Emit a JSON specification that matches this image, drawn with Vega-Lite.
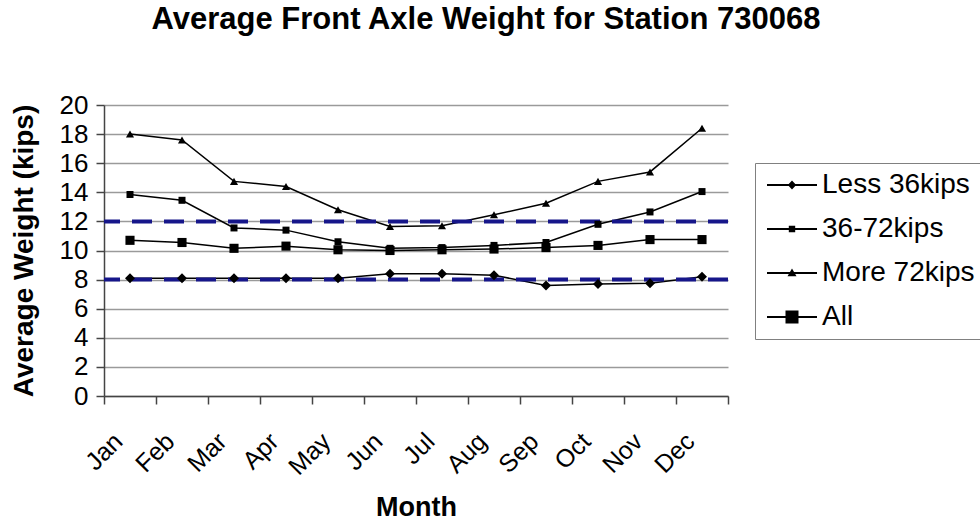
{
  "$schema": "https://vega.github.io/schema/vega-lite/v6.json",
  "autosize": "none",
  "width": 624,
  "height": 291,
  "padding": {"left": 104, "top": 105, "right": 252, "bottom": 131},
  "background": "white",
  "title": {
    "text": "Average Front Axle Weight for Station 730068",
    "font": "Liberation Sans",
    "fontSize": 31,
    "fontWeight": "bold",
    "color": "black",
    "anchor": "middle",
    "dx": 70,
    "baseline": "alphabetic",
    "offset": 32
  },
  "datasets": {
    "weights": [
      {"month": "Jan", "series": "Less 36kips", "value": 8.1},
      {"month": "Feb", "series": "Less 36kips", "value": 8.1},
      {"month": "Mar", "series": "Less 36kips", "value": 8.1},
      {"month": "Apr", "series": "Less 36kips", "value": 8.1},
      {"month": "May", "series": "Less 36kips", "value": 8.1},
      {"month": "Jun", "series": "Less 36kips", "value": 8.4},
      {"month": "Jul", "series": "Less 36kips", "value": 8.4},
      {"month": "Aug", "series": "Less 36kips", "value": 8.3},
      {"month": "Sep", "series": "Less 36kips", "value": 7.6},
      {"month": "Oct", "series": "Less 36kips", "value": 7.7},
      {"month": "Nov", "series": "Less 36kips", "value": 7.75},
      {"month": "Dec", "series": "Less 36kips", "value": 8.2},
      {"month": "Jan", "series": "36-72kips", "value": 10.7},
      {"month": "Feb", "series": "36-72kips", "value": 10.55},
      {"month": "Mar", "series": "36-72kips", "value": 10.15},
      {"month": "Apr", "series": "36-72kips", "value": 10.3},
      {"month": "May", "series": "36-72kips", "value": 10.05},
      {"month": "Jun", "series": "36-72kips", "value": 10.0},
      {"month": "Jul", "series": "36-72kips", "value": 10.05},
      {"month": "Aug", "series": "36-72kips", "value": 10.1},
      {"month": "Sep", "series": "36-72kips", "value": 10.2},
      {"month": "Oct", "series": "36-72kips", "value": 10.35},
      {"month": "Nov", "series": "36-72kips", "value": 10.75},
      {"month": "Dec", "series": "36-72kips", "value": 10.75},
      {"month": "Jan", "series": "More 72kips", "value": 18.0},
      {"month": "Feb", "series": "More 72kips", "value": 17.6},
      {"month": "Mar", "series": "More 72kips", "value": 14.75},
      {"month": "Apr", "series": "More 72kips", "value": 14.4},
      {"month": "May", "series": "More 72kips", "value": 12.8},
      {"month": "Jun", "series": "More 72kips", "value": 11.65},
      {"month": "Jul", "series": "More 72kips", "value": 11.7},
      {"month": "Aug", "series": "More 72kips", "value": 12.45},
      {"month": "Sep", "series": "More 72kips", "value": 13.25},
      {"month": "Oct", "series": "More 72kips", "value": 14.75},
      {"month": "Nov", "series": "More 72kips", "value": 15.4},
      {"month": "Dec", "series": "More 72kips", "value": 18.4},
      {"month": "Jan", "series": "All", "value": 13.85},
      {"month": "Feb", "series": "All", "value": 13.45},
      {"month": "Mar", "series": "All", "value": 11.55},
      {"month": "Apr", "series": "All", "value": 11.4},
      {"month": "May", "series": "All", "value": 10.6},
      {"month": "Jun", "series": "All", "value": 10.15},
      {"month": "Jul", "series": "All", "value": 10.2},
      {"month": "Aug", "series": "All", "value": 10.35},
      {"month": "Sep", "series": "All", "value": 10.55},
      {"month": "Oct", "series": "All", "value": 11.8},
      {"month": "Nov", "series": "All", "value": 12.65},
      {"month": "Dec", "series": "All", "value": 14.05}
    ],
    "refs": [{"value": 12}, {"value": 8}]
  },
  "encoding": {
    "y": {
      "field": "value",
      "type": "quantitative",
      "scale": {"domain": [0, 20], "nice": false},
      "axis": {
        "title": "Average Weight (kips)",
        "titleFont": "Liberation Sans",
        "titleFontSize": 28,
        "titleFontWeight": "bold",
        "titleColor": "black",
        "titlePadding": 21,
        "values": [0, 2, 4, 6, 8, 10, 12, 14, 16, 18, 20],
        "labelOverlap": false,
        "labelFont": "Liberation Sans",
        "labelFontSize": 26,
        "labelColor": "black",
        "labelPadding": 8,
        "tickSize": 8,
        "tickColor": "#444444",
        "tickWidth": 1.5,
        "domainColor": "#444444",
        "domainWidth": 1.5,
        "grid": true,
        "gridColor": "#9a9a9a",
        "gridWidth": 1.5
      }
    }
  },
  "layer": [
    {
      "data": {"name": "weights"},
      "mark": {"type": "line", "color": "black", "strokeWidth": 1.5},
      "encoding": {
        "x": {
          "field": "month",
          "type": "nominal",
          "sort": ["Jan","Feb","Mar","Apr","May","Jun","Jul","Aug","Sep","Oct","Nov","Dec"],
          "scale": {"type": "band", "paddingInner": 0, "paddingOuter": 0},
          "axis": {
            "title": "Month",
            "titleFont": "Liberation Sans",
            "titleFontSize": 27,
            "titleFontWeight": "bold",
            "titleColor": "black",
            "titlePadding": 15,
            "labelAngle": -45,
            "labelAlign": "right",
            "labelBaseline": "middle",
            "labelFont": "Liberation Sans",
            "labelFontSize": 25,
            "labelColor": "black",
            "labelPadding": 33,
            "labelOffset": -12,
            "labelOverlap": false,
            "tickBand": "extent",
            "tickSize": 8,
            "tickColor": "#444444",
            "tickWidth": 1.5,
            "domainColor": "#444444",
            "domainWidth": 1.5,
            "grid": false
          }
        },
        "detail": {"field": "series", "type": "nominal"}
      }
    },
    {
      "data": {"name": "refs"},
      "mark": {"type": "rule", "color": "#16168a", "strokeWidth": 4, "strokeDash": [20, 12]},
      "encoding": {}
    },
    {
      "data": {"name": "weights"},
      "mark": {"type": "point", "filled": true, "color": "black", "opacity": 1},
      "encoding": {
        "x": {
          "field": "month",
          "type": "nominal",
          "sort": ["Jan","Feb","Mar","Apr","May","Jun","Jul","Aug","Sep","Oct","Nov","Dec"]
        },
        "shape": {
          "field": "series",
          "type": "nominal",
          "scale": {"domain": ["Less 36kips", "36-72kips", "More 72kips", "All"], "range": ["diamond", "square", "triangle-up", "square"]},
          "legend": null
        },
        "size": {
          "field": "series",
          "type": "nominal",
          "scale": {"domain": ["Less 36kips", "36-72kips", "More 72kips", "All"], "range": [100, 49, 130, 170]},
          "legend": null
        }
      }
    },
    {
      "data": {"name": "weights"},
      "mark": {"type": "point", "filled": true, "color": "black", "opacity": 0, "size": 400},
      "encoding": {
        "x": {
          "field": "month",
          "type": "nominal",
          "sort": ["Jan","Feb","Mar","Apr","May","Jun","Jul","Aug","Sep","Oct","Nov","Dec"]
        },
        "shape": {
          "field": "series",
          "type": "nominal",
          "scale": {
            "domain": ["Less 36kips", "36-72kips", "More 72kips", "All"],
            "range": [
              "M-1,-0.09H4V0.09H-1ZM1.5,-0.45L1.92,0L1.5,0.45L1.08,0Z",
              "M-1,-0.09H4V0.09H-1ZM1.18,-0.32H1.82V0.32H1.18Z",
              "M-1,-0.09H4V0.09H-1ZM1.5,-0.45L1.95,0.32H1.05Z",
              "M-1,-0.09H4V0.09H-1ZM0.85,-0.65H2.15V0.65H0.85Z"
            ]
          },
          "legend": {
            "title": null,
            "orient": "none",
            "legendX": 651,
            "legendY": 58,
            "direction": "vertical",
            "strokeColor": "#808080",
            "padding": 8,
            "labelFont": "Liberation Sans",
            "labelFontSize": 28,
            "labelColor": "black",
            "labelLimit": 400,
            "labelOffset": 31,
            "rowPadding": 16,
            "symbolSize": 400,
            "symbolStrokeWidth": 0,
            "symbolFillColor": "black",
            "symbolOpacity": 1
          }
        }
      }
    }
  ],
  "resolve": {"scale": {"shape": "independent", "size": "independent"}},
  "config": {
    "view": {"stroke": null},
    "font": "Liberation Sans"
  }
}
